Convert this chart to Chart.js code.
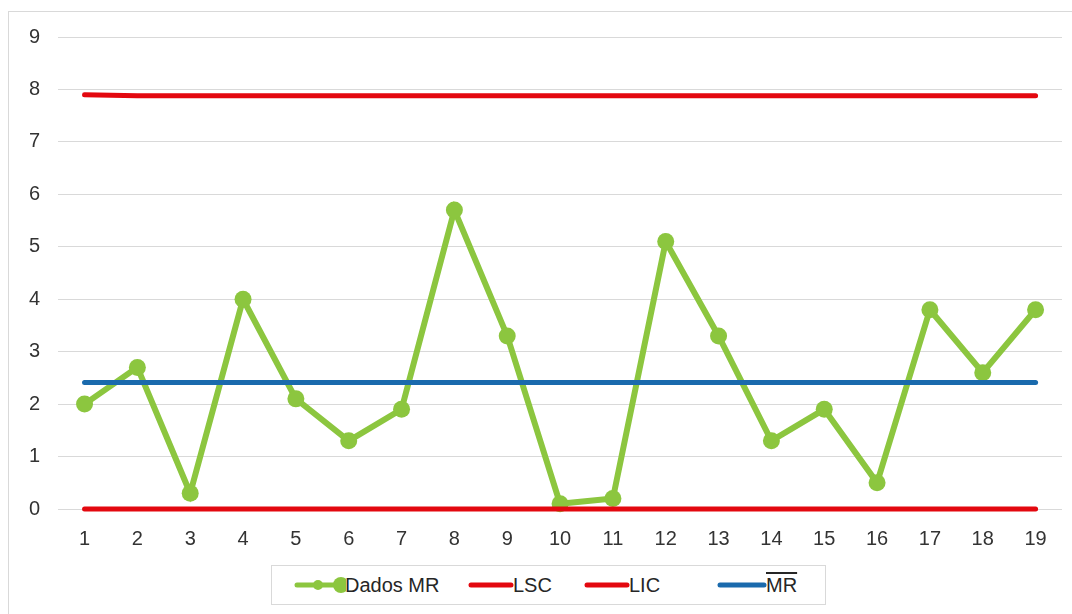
<!DOCTYPE html>
<html>
<head>
<meta charset="utf-8">
<script src="https://cdn.jsdelivr.net/npm/chart.js@4"></script>
<style>
  html, body { margin: 0; padding: 0; background: #fff; }
  body { width: 1072px; height: 614px; position: relative; overflow: hidden; font-family: "Liberation Sans", Arial, sans-serif; }
  #frame { position: absolute; left: 8px; top: 11px; width: 1080px; height: 620px; border: 1px solid #d9d9d9; box-sizing: border-box; }
  #chart { position: absolute; left: 0; top: 0; }
  #legend { position: absolute; left: 271px; top: 565px; width: 555px; height: 40px; border: 1px solid #d9d9d9; box-sizing: border-box; background: #fff; }
  .item { position: absolute; top: 0; height: 38px; line-height: 38px; font-size: 20px; color: #262626; white-space: nowrap; }
  .item svg { position: absolute; top: 9px; left: 0; }
  .item span { position: absolute; top: 0; }
  .over { text-decoration: overline; }
</style>
</head>
<body>
<div id="frame"></div>
<canvas id="chart" width="1072" height="614"></canvas>
<div id="legend"></div>
<script>
const labels = ["1", "2", "3", "4", "5", "6", "7", "8", "9", "10", "11", "12", "13", "14", "15", "16", "17", "18", "19"];
const dadosMR = [2.0, 2.7, 0.3, 4.0, 2.1, 1.3, 1.9, 5.7, 3.3, 0.1, 0.2, 5.1, 3.3, 1.3, 1.9, 0.5, 3.8, 2.6, 3.8];
const lsc = [7.9, 7.88, 7.88, 7.88, 7.88, 7.88, 7.88, 7.88, 7.88, 7.88, 7.88, 7.88, 7.88, 7.88, 7.88, 7.88, 7.88, 7.88, 7.88];
const lic = [0, 0, 0, 0, 0, 0, 0, 0, 0, 0, 0, 0, 0, 0, 0, 0, 0, 0, 0];
const mrBar = [2.41, 2.41, 2.41, 2.41, 2.41, 2.41, 2.41, 2.41, 2.41, 2.41, 2.41, 2.41, 2.41, 2.41, 2.41, 2.41, 2.41, 2.41, 2.41];
const seriesNames = ["Dados MR", "LSC", "LIC", "MR"];

const green = "#8cc63f";
const red = "#e3080f";
const blue = "#1a6aad";

const ctx = document.getElementById("chart").getContext("2d");
new Chart(ctx, {
  type: "line",
  data: {
    labels: labels,
    datasets: [
      {
        label: seriesNames[0],
        data: dadosMR,
        borderColor: green,
        backgroundColor: green,
        borderWidth: 6,
        pointRadius: 8.5,
        pointHoverRadius: 8.5,
        pointBorderWidth: 0,
        tension: 0,
        clip: false,
        order: 4,
      },
      {
        label: seriesNames[1],
        data: lsc,
        borderColor: red,
        borderWidth: 5,
        borderCapStyle: "round",
        pointRadius: 0,
        clip: false,
        order: 3,
      },
      {
        label: seriesNames[2],
        data: lic,
        borderColor: red,
        borderWidth: 5,
        borderCapStyle: "round",
        pointRadius: 0,
        clip: false,
        order: 2,
      },
      {
        label: seriesNames[3],
        data: mrBar,
        borderColor: blue,
        borderWidth: 5,
        borderCapStyle: "round",
        pointRadius: 0,
        clip: false,
        order: 1,
      },
    ],
  },
  options: {
    responsive: false,
    animation: false,
    layout: {
      padding: { left: 11, right: 10, top: 37, bottom: 45 },
    },
    plugins: {
      legend: { display: false },
      tooltip: { enabled: false },
    },
    scales: {
      x: {
        offset: true,
        grid: { display: false, drawTicks: false },
        border: { display: false },
        ticks: {
          color: "#333333",
          font: { family: "'Liberation Sans', Arial, sans-serif", size: 20 },
          padding: 18,
        },
      },
      y: {
        min: 0,
        max: 9,
        grid: { color: "#d9d9d9", lineWidth: 1, drawTicks: false },
        border: { display: false },
        ticks: {
          stepSize: 1,
          color: "#333333",
          font: { family: "'Liberation Sans', Arial, sans-serif", size: 20 },
          padding: 18,
        },
      },
    },
  },
});

// legend drawn as html so the MR bar can carry an overline
const legendItems = [
  { left: 22, width: 52, text: seriesNames[0], color: green, markers: true, over: false },
  { left: 196, width: 46, text: seriesNames[1], color: red, markers: false, over: false },
  { left: 312, width: 46, text: seriesNames[2], color: red, markers: false, over: false },
  { left: 445, width: 50, text: seriesNames[3], color: blue, markers: false, over: true },
];
const legend = document.getElementById("legend");
legendItems.forEach((it) => {
  const div = document.createElement("div");
  div.className = "item";
  div.style.left = it.left + "px";
  let svg = `<svg width="${it.width}" height="20" viewBox="0 0 ${it.width} 20">` +
    `<line x1="3" y1="10" x2="${it.width - 3}" y2="10" stroke="${it.color}" stroke-width="5" stroke-linecap="round"/>`;
  if (it.markers) {
    svg += `<circle cx="24" cy="10" r="5" fill="${it.color}"/><circle cx="${it.width - 5}" cy="10" r="8" fill="${it.color}"/>`;
  }
  svg += `</svg>`;
  div.innerHTML = svg + `<span class="${it.over ? "over" : ""}" style="left:${it.width - 1}px">${it.text}</span>`;
  legend.appendChild(div);
});
</script>
</body>
</html>
